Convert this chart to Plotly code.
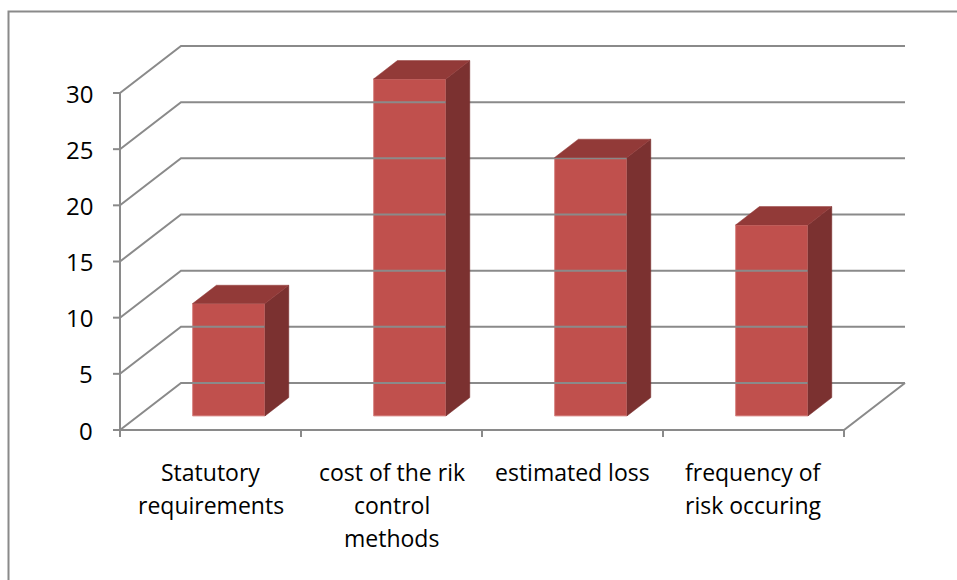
import plotly.graph_objects as go

# ---- data ----
categories = ["Statutory requirements", "cost of the rik control methods",
              "estimated loss", "frequency of risk occuring"]
label_lines = [["Statutory", "requirements"],
               ["cost of the rik", "control", "methods"],
               ["estimated loss"],
               ["frequency of", "risk occuring"]]
values = [10, 30, 23, 17]
y_ticks = [0, 5, 10, 15, 20, 25, 30]

# ---- canvas / projection ----
W, H = 957, 580
X0_PX, CAT_PX = 120, 181.0          # pixel of first category edge, width per category
Y0_PX, UNIT_PX = 430, 337 / 30.0    # pixel of value 0, pixels per value unit
DX = 61 / CAT_PX                    # depth offset of the back wall (x, category units)
DY = 47 / UNIT_PX                   # depth offset of the back wall (y, value units)
F, B = 0.30, 0.69                   # bar front / back depth fractions
HALF = 0.2                          # half bar width (category units)

FRONT = "#C0504D"
SIDE = "#7B3130"
TOP = "#923A38"
GRID = "#8A8A8A"
FONT = "Open Sans"

n = len(categories)
centers = [i + 0.5 for i in range(n)]

fig = go.Figure()

# back wall gridlines, side wall diagonals, floor
gx, gy = [], []
for t in y_ticks:
    gx += [0, DX, n + DX, None]
    gy += [t, t + DY, t + DY, None]
gx += [0, n, n + DX, None]
gy += [0, 0, DY, None]
fig.add_trace(go.Scatter(x=gx, y=gy, mode="lines",
                         line=dict(color=GRID, width=2), hoverinfo="skip"))

# value axis and tick marks, category tick marks
ax, ay = [0, 0, None], [0, y_ticks[-1], None]
for t in y_ticks:
    ax += [-7 / CAT_PX, 0, None]
    ay += [t, t, None]
for i in range(n + 1):
    ax += [i, i, None]
    ay += [0, -7 / UNIT_PX, None]
fig.add_trace(go.Scatter(x=ax, y=ay, mode="lines",
                         line=dict(color=GRID, width=2), hoverinfo="skip"))

# bar side and top faces
for c, v in zip(centers, values):
    xr_f, xr_b = c + HALF + F * DX, c + HALF + B * DX
    xl_f, xl_b = c - HALF + F * DX, c - HALF + B * DX
    yf, yb = F * DY, B * DY
    fig.add_trace(go.Scatter(
        x=[xr_f, xr_b, xr_b, xr_f, xr_f],
        y=[yf, yb, yb + v, yf + v, yf],
        fill="toself", fillcolor=SIDE, mode="lines",
        line=dict(color=SIDE, width=0.5), hoverinfo="skip"))
    fig.add_trace(go.Scatter(
        x=[xl_f, xl_b, xr_b, xr_f, xl_f],
        y=[yf + v, yb + v, yb + v, yf + v, yf + v],
        fill="toself", fillcolor=TOP, mode="lines",
        line=dict(color=TOP, width=0.5), hoverinfo="skip"))

# bar front faces
fig.add_trace(go.Bar(
    x=[c + F * DX for c in centers], y=values, base=F * DY, width=2 * HALF,
    marker=dict(color=FRONT, line=dict(color="#D98A88", width=1)),
    hoverinfo="skip"))

annotations = []
# value axis labels
for t in y_ticks:
    annotations.append(dict(x=-25 / CAT_PX, y=t, text=str(t), xref="x", yref="y",
                            xanchor="right", yanchor="middle", showarrow=False,
                            font=dict(family=FONT, size=24, color="#000000")))
# category labels, one annotation per line
LINE_PX = 33
for c, lines in zip(centers, label_lines):
    for k, line in enumerate(lines):
        py = 472 + k * LINE_PX
        annotations.append(dict(x=c, y=(Y0_PX - py) / UNIT_PX, text=line,
                                xref="x", yref="y", xanchor="center",
                                yanchor="middle", showarrow=False,
                                font=dict(family=FONT, size=23, color="#000000")))

fig.update_layout(
    width=W, height=H,
    margin=dict(l=0, r=0, t=0, b=0),
    paper_bgcolor="white", plot_bgcolor="white",
    showlegend=False,
    xaxis=dict(range=[-X0_PX / CAT_PX, (W - X0_PX) / CAT_PX], visible=False, fixedrange=True),
    yaxis=dict(range=[(Y0_PX - H) / UNIT_PX, Y0_PX / UNIT_PX], visible=False, fixedrange=True),
    annotations=annotations,
    shapes=[dict(type="path", xref="paper", yref="paper",
                 path=f"M {8.5 / W} -0.05 L {8.5 / W} {1 - 11.5 / H} L 1.05 {1 - 11.5 / H}",
                 line=dict(color=GRID, width=2))],
)

fig.write_html("out.html")
